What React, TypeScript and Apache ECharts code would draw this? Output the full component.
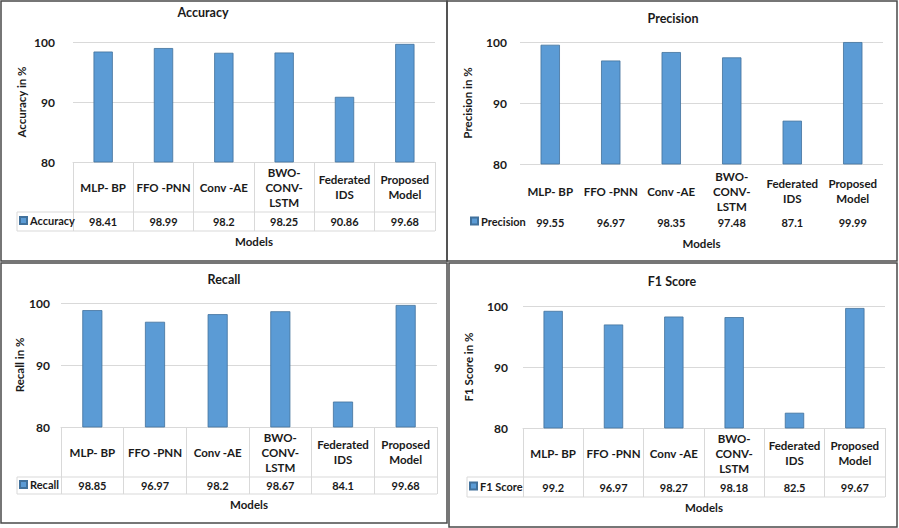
import React, { useEffect, useRef } from 'react';
import * as echarts from 'echarts';

const categoryLabels = ['MLP- BP', 'FFO -PNN', 'Conv -AE', 'BWO-\nCONV-\nLSTM', 'Federated\nIDS', 'Proposed\nModel'];
const accuracy = [98.41, 98.99, 98.2, 98.25, 90.86, 99.68];
const precision = [99.55, 96.97, 98.35, 97.48, 87.1, 99.99];
const recall = [98.85, 96.97, 98.2, 98.67, 84.1, 99.68];
const f1Score = [99.2, 96.97, 98.27, 98.18, 82.5, 99.67];
const yTicks = { min: 80, max: 100, interval: 10 };

const FONT = 'Lato, "Open Sans", sans-serif';
const TXT = '#1a1a1a';
const GRID_C = '#D9D9D9';

type Panel = {
  title: string; yName: string; values: number[]; table: boolean;
  box: number[]; grid: { left: number; top: number; width: number; height: number };
  titleX: number; titleY: number; catCenter: number; valCenter: number; tableBottom: number;
  yMargin: number; yGap: number; legendLeft: number; nameY: number;
};

const panels: Panel[] = [
  { title: 'Accuracy', yName: 'Accuracy in %', values: accuracy, table: true,
    box: [1, 1, 447, 261], grid: { left: 73, top: 42, width: 362, height: 120 },
    titleX: 203, titleY: 6, catCenter: 187, valCenter: 221.5, tableBottom: 231,
    yMargin: 18, yGap: 46, legendLeft: 17, nameY: 241 },
  { title: 'Precision', yName: 'Precision in %', values: precision, table: false,
    box: [447, 1, 897, 261], grid: { left: 520, top: 42, width: 363, height: 122 },
    titleX: 673, titleY: 12, catCenter: 191, valCenter: 222, tableBottom: 232,
    yMargin: 13, yGap: 47, legendLeft: 468, nameY: 243 },
  { title: 'Recall', yName: 'Recall in %', values: recall, table: true,
    box: [1, 263, 447, 523], grid: { left: 61, top: 303, width: 376, height: 124 },
    titleX: 224, titleY: 273, catCenter: 452, valCenter: 485.5, tableBottom: 494,
    yMargin: 11, yGap: 34, legendLeft: 17, nameY: 504 },
  { title: 'F1 Score', yName: 'F1 Score in %', values: f1Score, table: true,
    box: [449, 263, 897, 527], grid: { left: 523, top: 306, width: 362, height: 122 },
    titleX: 672, titleY: 275, catCenter: 453, valCenter: 487, tableBottom: 497,
    yMargin: 15, yGap: 49, legendLeft: 467, nameY: 507 },
];

export default function App() {
  const ref = useRef<HTMLDivElement>(null);
  useEffect(() => {
    if (!ref.current) return;
    const chart = echarts.init(ref.current, null, { renderer: 'svg' });
    const grid: any[] = [];
    const xAxis: any[] = [];
    const yAxis: any[] = [];
    const series: any[] = [];
    const title: any[] = [];
    const legend: any[] = [];
    const graphic: any[] = [];

    panels.forEach((p, i) => {
      const g = p.grid;
      const gBottom = g.top + g.height;
      const right = g.left + g.width;
      grid.push({ left: g.left, top: g.top, width: g.width, height: g.height });
      title.push({
        text: p.title, left: p.titleX, top: p.titleY, textAlign: 'center', padding: 0,
        textStyle: { fontFamily: FONT, fontSize: 12.5, fontWeight: 'bold', color: TXT },
      });
      xAxis.push({
        type: 'category', gridIndex: i, data: categoryLabels, position: 'bottom',
        axisLine: { show: p.table, lineStyle: { color: GRID_C, width: 1 } },
        axisTick: { show: p.table, interval: 0, length: p.tableBottom - gBottom, lineStyle: { color: GRID_C, width: 1 } },
        axisLabel: {
          interval: 0, margin: p.catCenter - gBottom, verticalAlign: 'middle', lineHeight: 15,
          fontFamily: FONT, fontSize: 11.5, fontWeight: 'bold', color: TXT,
        },
      });
      xAxis.push({
        type: 'category', gridIndex: i, data: p.values.map((v) => String(v)), position: 'bottom',
        offset: p.valCenter - gBottom,
        axisLine: { show: false }, axisTick: { show: false },
        axisLabel: { interval: 0, margin: 0, verticalAlign: 'middle', fontFamily: FONT, fontSize: 11, fontWeight: 'bold', color: TXT },
        name: 'Models', nameLocation: 'middle', nameGap: p.nameY - p.valCenter - 6,
        nameTextStyle: { fontFamily: FONT, fontSize: 11.5, fontWeight: 'bold', color: TXT },
      });
      yAxis.push({
        type: 'value', gridIndex: i, min: yTicks.min, max: yTicks.max, interval: yTicks.interval,
        axisLine: { show: false }, axisTick: { show: false },
        splitLine: { lineStyle: { color: GRID_C, width: 1 } },
        axisLabel: { margin: p.yMargin, fontFamily: FONT, fontSize: 12, fontWeight: 'bold', color: TXT },
        name: p.yName, nameLocation: 'middle', nameRotate: 90, nameGap: p.yGap,
        nameTextStyle: { fontFamily: FONT, fontSize: 11.5, fontWeight: 'bold', color: TXT },
      });
      series.push({
        type: 'bar', name: p.title, xAxisIndex: i * 2, yAxisIndex: i, data: p.values,
        barWidth: '32%',
        itemStyle: { color: '#5B9BD5', borderColor: '#41719C', borderWidth: 0.8 },
      });
      legend.push({
        data: [p.title], left: p.legendLeft + 2, top: p.valCenter - 6.5, padding: 0,
        icon: 'rect', itemWidth: 7, itemHeight: 7, itemGap: 0, selectedMode: false,
        textStyle: { fontFamily: FONT, fontSize: 11, fontWeight: 'bold', color: TXT, padding: [0, 0, 0, -2] },
      });
      const [x1, y1, x2, y2] = p.box;
      graphic.push({
        type: 'rect', shape: { x: x1, y: y1, width: x2 - x1, height: y2 - y1 },
        style: { fill: 'none', stroke: '#4a4a4a', lineWidth: 1.5 }, silent: true,
      });
      if (p.table) {
        const rowTop = p.valCenter - (p.tableBottom - p.valCenter);
        const ls = { stroke: GRID_C, lineWidth: 1 };
        graphic.push({ type: 'line', shape: { x1: p.legendLeft, y1: rowTop, x2: right, y2: rowTop }, style: ls, silent: true });
        graphic.push({ type: 'line', shape: { x1: p.legendLeft, y1: p.tableBottom, x2: right, y2: p.tableBottom }, style: ls, silent: true });
        graphic.push({ type: 'line', shape: { x1: p.legendLeft, y1: rowTop, x2: p.legendLeft, y2: p.tableBottom }, style: ls, silent: true });
      }
    });

    chart.setOption({
      animation: false,
      backgroundColor: '#ffffff',
      title, legend, grid, xAxis, yAxis, series, graphic,
    });
    return () => chart.dispose();
  }, []);
  return <div ref={ref} style={{ position: 'fixed', left: 0, top: 0, width: 899, height: 528 }} />;
}
